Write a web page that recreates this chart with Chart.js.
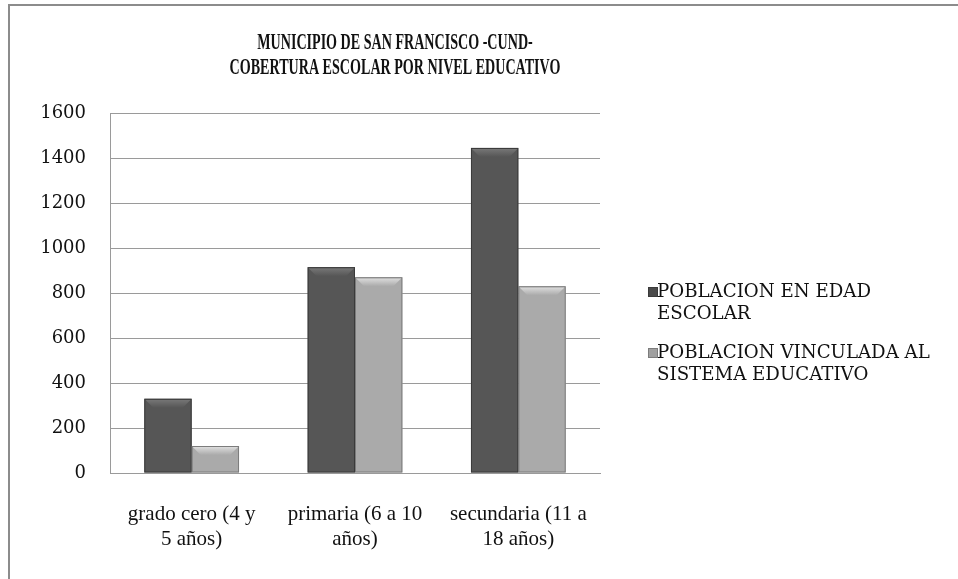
<!DOCTYPE html>
<html>
<head>
<meta charset="utf-8">
<script src="https://cdn.jsdelivr.net/npm/chart.js@4.4.1/dist/chart.umd.min.js"></script>
<style>
  html,body{margin:0;padding:0;background:#fff;}
  #wrap{position:relative;width:958px;height:579px;overflow:hidden;}
  #frame{position:absolute;left:8px;top:4px;width:960px;height:600px;border-left:2px solid #8c8c8c;border-top:2px solid #8c8c8c;box-sizing:border-box;}
  #c{position:absolute;left:0;top:0;}
  #legend{position:absolute;left:648px;top:280px;font-family:"DejaVu Serif","Liberation Serif",serif;font-size:18.2px;color:#111;}
  .item{position:relative;padding-left:9px;line-height:22px;margin-bottom:17px;white-space:nowrap;}
  .sw{position:absolute;left:0;top:7px;width:8px;height:8px;}
</style>
</head>
<body>
<div id="wrap">
  <div id="frame"></div>
  <canvas id="c" width="958" height="579"></canvas>
  <div id="legend"></div>
</div>
<script>
const titleLines = ["MUNICIPIO DE SAN FRANCISCO -CUND-", "COBERTURA ESCOLAR POR NIVEL EDUCATIVO"];
const categories = [["grado cero (4 y", "5 años)"], ["primaria (6 a 10", "años)"], ["secundaria (11 a", "18 años)"]];
const seriesNames = [["POBLACION EN EDAD", "ESCOLAR"], ["POBLACION VINCULADA AL", "SISTEMA EDUCATIVO"]];
const edadEscolar = [330, 915, 1445];
const vinculada = [120, 870, 830];
const yTicks = [0, 200, 400, 600, 800, 1000, 1200, 1400, 1600];

const palettes = [
  {l:'#5e5e5e', m:'#565656', r:'#3e3e3e', top:'#7a7a7a', border:'#3a3a3a', sw:'#4a4a4a'},
  {l:'#b8b8b8', m:'#aaaaaa', r:'#8e8e8e', top:'#e2e2e2', border:'#7c7c7c', sw:'#a0a0a0'}
];

function grad(ctx, pal){
  const el = ctx.element;
  const chart = ctx.chart;
  if(!el || el.x === undefined || !chart.chartArea) return pal.m;
  const w = el.width || 47;
  const g = chart.ctx.createLinearGradient(el.x - w/2, 0, el.x + w/2, 0);
  g.addColorStop(0, pal.l);
  g.addColorStop(0.5, pal.m);
  g.addColorStop(1, pal.r);
  return g;
}

const bevel = {
  id:'bevel',
  afterDatasetsDraw(chart){
    const c = chart.ctx;
    chart.data.datasets.forEach((ds, di) => {
      const pal = palettes[di];
      chart.getDatasetMeta(di).data.forEach(bar => {
        const l = bar.x - bar.width/2, r = bar.x + bar.width/2, t = bar.y, b = 9;
        c.save();
        const g = c.createLinearGradient(0, t, 0, t + b);
        g.addColorStop(0, pal.top);
        g.addColorStop(1, pal.m);
        c.fillStyle = g;
        c.beginPath();
        c.moveTo(l + 1, t + 1); c.lineTo(r - 1, t + 1); c.lineTo(r - b, t + b); c.lineTo(l + b, t + b);
        c.closePath(); c.fill();
        c.strokeStyle = pal.border; c.lineWidth = 1;
        c.strokeRect(l + 0.5, t + 0.5, bar.width - 1, bar.base - t - 1);
        c.restore();
      });
    });
  }
};

const titlePlugin = {
  id:'titleDraw',
  afterDraw(chart){
    const c = chart.ctx;
    c.save();
    c.fillStyle = '#111';
    c.font = 'bold 24px "Liberation Serif"';
    c.textAlign = 'center';
    c.textBaseline = 'middle';
    const ys = [43, 68];
    titleLines.forEach((t, i) => {
      c.save();
      c.translate(395, ys[i]);
      c.scale(0.587, 1);
      c.fillText(t, 0, 0);
      c.restore();
    });
    c.restore();
  }
};

new Chart(document.getElementById('c'), {
  type:'bar',
  data:{
    labels: categories,
    datasets:[
      {label: seriesNames[0].join(' '), data: edadEscolar, backgroundColor: ctx => grad(ctx, palettes[0]), borderWidth:0},
      {label: seriesNames[1].join(' '), data: vinculada, backgroundColor: ctx => grad(ctx, palettes[1]), borderWidth:0}
    ]
  },
  options:{
    responsive:false,
    animation:false,
    layout:{padding:{top:113, right:358, left:0, bottom:0}},
    categoryPercentage:0.58,
    barPercentage:1.0,
    plugins:{legend:{display:false}, title:{display:false}, tooltip:{enabled:false}},
    scales:{
      x:{
        grid:{display:false, drawTicks:false},
        border:{display:true, color:'#9a9a9a', width:1},
        ticks:{font:{family:'Liberation Serif', size:21}, color:'#111', padding:29, maxRotation:0, autoSkip:false},
        afterFit(s){ s.height = 106; }
      },
      y:{
        min:0, max:1600,
        afterBuildTicks(s){ s.ticks = yTicks.map(v => ({value:v})); },
        grid:{color:'#9a9a9a', drawTicks:false, lineWidth:1},
        border:{display:true, color:'#9a9a9a'},
        ticks:{font:{family:'DejaVu Serif', size:18}, color:'#111', padding:24, callback:v => String(v)},
        afterFit(s){ s.width = 110; }
      }
    }
  },
  plugins:[bevel, titlePlugin]
});

const lg = document.getElementById('legend');
seriesNames.forEach((lines, i) => {
  const d = document.createElement('div');
  d.className = 'item';
  d.innerHTML = '<span class="sw" style="background:' + palettes[i].sw + ';border:1px solid ' + palettes[i].border + '"></span>' + lines.join('<br>');
  lg.appendChild(d);
});
</script>
</body>
</html>
